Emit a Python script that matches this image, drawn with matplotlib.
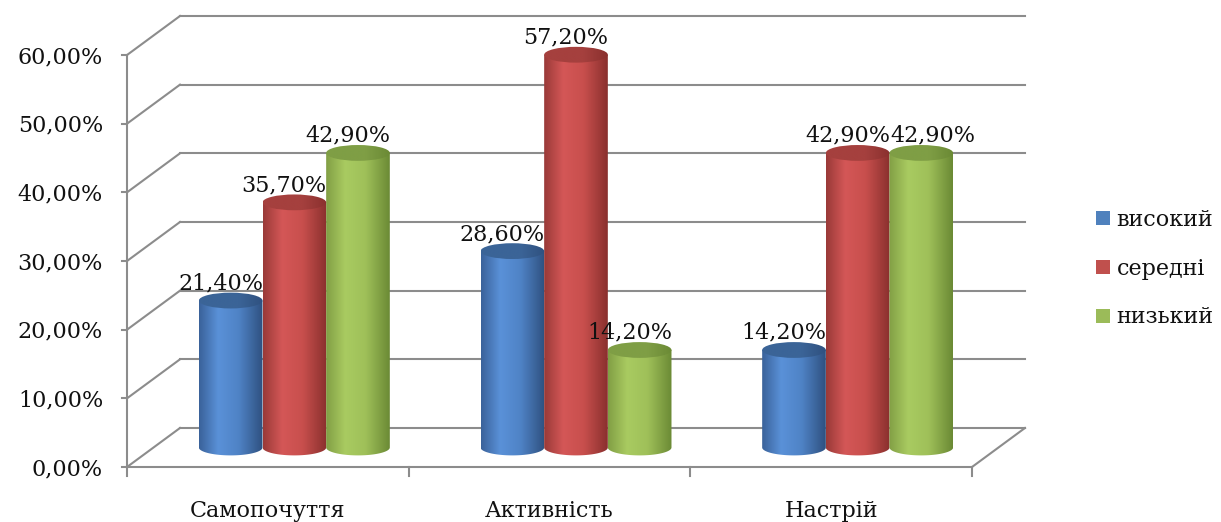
import numpy as np
import matplotlib
matplotlib.use("Agg")
import matplotlib.pyplot as plt
from matplotlib.patches import Polygon, Ellipse, Patch
from matplotlib.colors import LinearSegmentedColormap

# Data
categories = ["Самопочуття", "Активність", "Настрій"]
series = ["високий", "середні", "низький"]
vysokyi = [21.4, 28.6, 14.2]
seredni = [35.7, 57.2, 42.9]
nyzkyi = [42.9, 14.2, 42.9]
values = [vysokyi, seredni, nyzkyi]
y_ticks = [0, 10, 20, 30, 40, 50, 60]

# body shading: dark edge -> highlight -> dark edge, plus cap colour
shades = [
    ["#3a629a", "#5a91d8", "#4f83c6", "#2f5180", "#3b6497"],
    ["#9a3a38", "#d45757", "#c84f4d", "#8a302e", "#a5403e"],
    ["#829f45", "#a9cb61", "#9fc059", "#6b8a35", "#7f9e45"],
]
legend_colors = ["#4f81bd", "#c0504d", "#9bbb59"]

plt.rcParams["font.family"] = "DejaVu Serif"
grid_c = "#8c8c8c"
txt_c = "#111111"
fs = 16

fig = plt.figure(figsize=(12.21, 5.22), dpi=100)
ax = fig.add_axes([0, 0, 1, 1])
xlim = (-0.451, 3.884)
ylim = (-8.01, 68.01)

# oblique depth of the plot box
ddx, ddy = 0.188, 5.68
ymax = 60
ncat = len(categories)


def pct(v):
    return f"{v:.2f}".replace(".", ",") + "%"


# walls: left-side diagonals and back gridlines
for v in y_ticks:
    ax.plot([0, ddx], [v, v + ddy], color=grid_c, lw=1.5, zorder=1)
    ax.plot([ddx, ncat + ddx], [v + ddy, v + ddy], color=grid_c, lw=1.5, zorder=1)
    ax.plot([-0.018, 0], [v, v], color=grid_c, lw=1.5, zorder=1)
    ax.text(-0.085, v - 0.3, pct(v), ha="right", va="center", fontsize=fs, color=txt_c)

# floor outline and front axis
ax.plot([0, ncat], [0, 0], color=grid_c, lw=1.5, zorder=1)
ax.plot([ncat, ncat + ddx], [0, ddy], color=grid_c, lw=1.5, zorder=1)
ax.plot([0, 0], [0, ymax], color=grid_c, lw=1.5, zorder=1)
for i in range(ncat + 1):
    ax.plot([i, i], [0, -1.3], color=grid_c, lw=1.5, zorder=1)
for i, c in enumerate(categories):
    ax.text(i + 0.5, -6.4, c, ha="center", va="center", fontsize=fs, color=txt_c)

# cylinders
width = 0.226
eh = 2.3
depth = 0.5
gx, gy = ddx * depth, ddy * depth
t = np.linspace(0, 1, 200)


def shaded(x0, x1, y0, y1, cols, clip, z):
    cmap = LinearSegmentedColormap.from_list(
        "c", [(0, cols[0]), (0.3, cols[1]), (0.62, cols[2]), (1, cols[3])])
    im = ax.imshow(t[None, :], cmap=cmap, extent=[x0, x1, y0, y1],
                   aspect="auto", zorder=z, interpolation="bilinear")
    im.set_clip_path(clip)


for i in range(ncat):
    for s in range(len(series)):
        v = values[s][i]
        xc = i + 0.5 + (s - 1) * width + gx
        x0, x1 = xc - width / 2, xc + width / 2
        base, top = gy, v + gy
        th = np.linspace(np.pi, 2 * np.pi, 60)
        arc = np.column_stack([xc + width / 2 * np.cos(th), base + eh / 2 * np.sin(th)])
        body = np.vstack([arc, [[x1, top], [x0, top]]])
        bp = Polygon(body, closed=True, fc="none", ec="none", zorder=3)
        ax.add_patch(bp)
        shaded(x0, x1, base - eh, top, shades[s], bp, 3 + s * 0.1)
        cap_cols = [shades[s][4], shades[s][4], shades[s][4], shades[s][3]]
        cap = Ellipse((xc, top), width, eh, fc="none", ec="none", zorder=4)
        ax.add_patch(cap)
        shaded(x0, x1, top - eh, top + eh, cap_cols, cap, 4 + s * 0.1)

        # nudge a label right when it sits level with its left neighbour
        lx = xc - 0.036
        if s > 0 and abs(values[s - 1][i] - v) < 3:
            lx = xc + 0.04
        ax.text(lx, top + 2.5, pct(v), ha="center", va="center",
                fontsize=fs, color=txt_c, zorder=6)

handles = [Patch(fc=c, ec="none") for c in legend_colors]
leg = ax.legend(handles, series, loc="center left", bbox_to_anchor=(0.898, 0.485),
                frameon=False, fontsize=16, handlelength=0.6, handleheight=0.6,
                handletextpad=0.3, labelspacing=1.2, borderpad=0, borderaxespad=0)
for tx in leg.get_texts():
    tx.set_color(txt_c)

ax.set_xlim(*xlim)
ax.set_ylim(*ylim)
ax.axis("off")
fig.savefig("out.png", dpi=100)
